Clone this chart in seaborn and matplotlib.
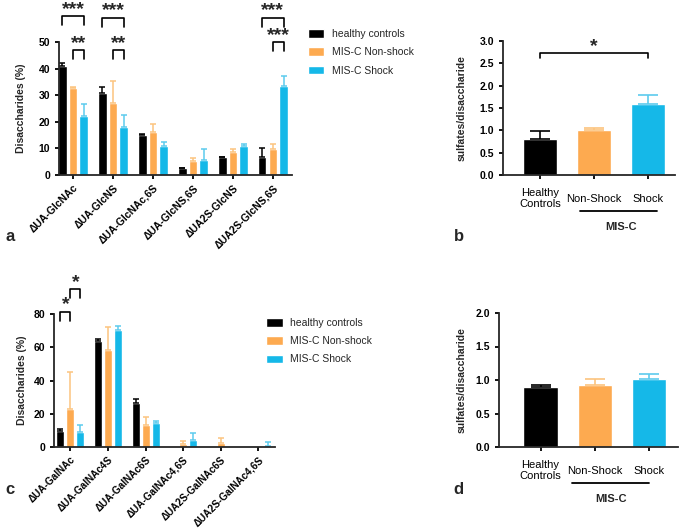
import matplotlib
matplotlib.use("Agg")
import matplotlib.pyplot as plt
import matplotlib.transforms as mtransforms
import pandas as pd
import seaborn as sns


GROUPS = ["healthy controls", "MIS-C Non-shock", "MIS-C Shock"]
COLORS = ["#000000", "#FDAA50", "#15B8E8"]
ERR_COLORS = ["#000000", "#FCC47E", "#5CCBEE"]

# a: heparan sulfate disaccharides (%)
hs_labels = ["ΔUA-GlcNAc", "ΔUA-GlcNS", "ΔUA-GlcNAc,6S", "ΔUA-GlcNS,6S",
             "ΔUA2S-GlcNS", "ΔUA2S-GlcNS,6S"]
hs_healthy = [41.1, 30.8, 15.2, 2.6, 6.7, 6.8]
hs_healthy_err = [1.0, 2.3, 0.3, 0.2, 0.2, 3.3]
hs_nonshock = [32.7, 27.0, 16.3, 5.3, 8.6, 9.8]
hs_nonshock_err = [0.5, 8.2, 2.8, 0.9, 1.2, 1.8]
hs_shock = [22.3, 18.1, 11.0, 5.5, 10.8, 33.5]
hs_shock_err = [4.2, 4.3, 1.4, 4.3, 0.7, 3.7]
# (category, group i, group j, bracket height, stars)
hs_sig = [(0, 0, 2, 59.6, "***"), (0, 1, 2, 47.0, "**"),
          (1, 0, 2, 59.2, "***"), (1, 1, 2, 47.0, "**"),
          (5, 0, 2, 59.2, "***"), (5, 1, 2, 50.0, "***")]

# c: chondroitin sulfate disaccharides (%)
cs_labels = ["ΔUA-GalNAc", "ΔUA-GalNAc4S", "ΔUA-GalNAc6S", "ΔUA-GalNAc4,6S",
             "ΔUA2S-GalNAc6S", "ΔUA2S-GalNAc4,6S"]
cs_healthy = [9.5, 63.9, 26.4, 0.0, 0.0, 0.0]
cs_healthy_err = [1.3, 1.1, 2.4, 0.0, 0.0, 0.0]
cs_nonshock = [23.0, 58.5, 13.5, 1.6, 2.6, 0.0]
cs_nonshock_err = [22.3, 13.8, 4.6, 1.9, 2.6, 0.0]
cs_shock = [8.8, 70.6, 14.3, 4.2, 0.0, 0.8]
cs_shock_err = [4.5, 2.4, 1.3, 4.3, 0.0, 2.0]
cs_sig = [(0, 0, 1, 81.5, "*"), (0, 1, 2, 95.0, "*")]

# b, d: sulfates per disaccharide
ratio_labels = ["Healthy\nControls", "Non-Shock", "Shock"]
hs_ratio = [0.80, 1.01, 1.60]
hs_ratio_err = [0.18, 0.05, 0.19]
cs_ratio = [0.90, 0.92, 1.02]
cs_ratio_err = [0.02, 0.09, 0.07]


sns.set_style("ticks")
plt.rcParams["font.family"] = ["Liberation Sans", "DejaVu Sans"]
plt.rcParams["axes.linewidth"] = 1.3

fig = plt.figure(figsize=(6.85, 5.28), dpi=100)


def style_axis(ax, bold_x=True):
    sns.despine(ax=ax)
    ax.tick_params(width=1.3, length=3, labelsize=7.5, colors="black")
    for t in ax.get_yticklabels():
        t.set_fontweight("bold")
    if bold_x:
        for t in ax.get_xticklabels():
            t.set_fontweight("bold")


def add_stars(ax, x1, x2, y, leg, stars):
    ax.plot([x1, x1, x2, x2], [y - leg, y, y, y - leg], color="black",
            lw=1.2, clip_on=False)
    ax.annotate(stars, ((x1 + x2) / 2, y), xytext=(0, 1.5),
                textcoords="offset points", ha="center", va="baseline",
                fontsize=14, fontweight="bold", annotation_clip=False)


def add_errorbars(ax, errs):
    for container, err, col in zip(ax.containers, errs, ERR_COLORS):
        for bar, e in zip(container, err):
            if e <= 0:
                continue
            x = bar.get_x() + bar.get_width() / 2
            ax.errorbar(x, bar.get_height(), yerr=[[0], [e]], color=col,
                        capsize=2.2, elinewidth=1.1, capthick=1.1, clip_on=False)


def grouped_panel(rect, labels, vals, errs, ylim, yticks, xlim, sig, leg_xy):
    ax = fig.add_axes(rect)
    df = pd.DataFrame({
        "cat": labels * 3,
        "group": [g for g in GROUPS for _ in labels],
        "value": [v for series in vals for v in series],
    })
    sns.barplot(data=df, x="cat", y="value", hue="group", order=labels,
                hue_order=GROUPS, palette=COLORS, saturation=1, errorbar=None,
                width=0.8, gap=0.2, ax=ax)
    add_errorbars(ax, errs)
    ax.set_ylim(*ylim)
    ax.set_yticks(yticks)
    ax.set_xlim(*xlim)
    ax.set_xlabel("")
    ax.set_ylabel("Disaccharides (%)", fontsize=7.5, fontweight="bold")
    ax.set_xticks(range(len(labels)))
    ax.set_xticklabels(labels, rotation=45, ha="right", rotation_mode="anchor")
    style_axis(ax)
    ax.tick_params(axis="x", pad=2.5)

    leg_h = (ylim[1] - ylim[0]) * 0.068
    for cat, i, j, y, stars in sig:
        b1 = ax.containers[i][cat]
        b2 = ax.containers[j][cat]
        x1 = b1.get_x() + b1.get_width() / 2
        x2 = b2.get_x() + b2.get_width() / 2
        add_stars(ax, x1, x2, y, leg_h, stars)

    sns.move_legend(ax, "upper left", bbox_to_anchor=leg_xy,
                    bbox_transform=fig.transFigure, frameon=False, title=None,
                    fontsize=7.5, handlelength=1.6, handleheight=0.9,
                    handletextpad=0.7, labelspacing=0.8, borderaxespad=0)
    return ax


def ratio_panel(rect, vals, errs, ylim, yticks, xlim, line_x, label_x):
    ax = fig.add_axes(rect)
    sns.barplot(x=ratio_labels, y=vals, hue=ratio_labels, palette=COLORS,
                saturation=1, errorbar=None, width=0.63, legend=False, ax=ax)
    for k, (bars, e) in enumerate(zip(ax.containers, errs)):
        bar = bars[0]
        x = bar.get_x() + bar.get_width() / 2
        ax.errorbar(x, bar.get_height(), yerr=[[0], [e]], color=ERR_COLORS[k],
                    capsize=7, elinewidth=1.2, capthick=1.2)
    ax.set_ylim(*ylim)
    ax.set_yticks(yticks)
    ax.set_xlim(*xlim)
    ax.set_ylabel("sulfates/disaccharide", fontsize=7.5, fontweight="bold")
    style_axis(ax, bold_x=False)
    ax.tick_params(axis="x", labelsize=8, pad=14)
    for t in ax.get_xticklabels():
        t.set_va("center")
        t.set_fontweight("normal")
    trans = mtransforms.blended_transform_factory(ax.transData, ax.transAxes)
    ax.plot(line_x, [-0.27, -0.27], color="black", lw=1.3, transform=trans,
            clip_on=False)
    ax.text(label_x, -0.385, "MIS-C", transform=trans, ha="center", va="center",
            fontsize=8, fontweight="bold")
    return ax


ax_a = grouped_panel([0.0861, 0.6686, 0.340, 0.2519], hs_labels,
                     [hs_healthy, hs_nonshock, hs_shock],
                     [hs_healthy_err, hs_nonshock_err, hs_shock_err],
                     (0, 50), range(0, 51, 10), (-0.35, 5.475), hs_sig,
                     (0.443, 0.953))
ax_a.yaxis.set_label_coords(-0.142, 0.5)

ax_c = grouped_panel([0.0788, 0.1534, 0.3226, 0.2519], cs_labels,
                     [cs_healthy, cs_nonshock, cs_shock],
                     [cs_healthy_err, cs_nonshock_err, cs_shock_err],
                     (0, 80), range(0, 81, 20), (-0.44, 5.45), cs_sig,
                     (0.3825, 0.406))
ax_c.yaxis.set_label_coords(-0.122, 0.5)
for t in ax_c.get_xticklabels():
    t.set_fontsize(7.2)

ax_b = ratio_panel([0.7343, 0.6686, 0.2511, 0.2538], hs_ratio, hs_ratio_err,
                   (0, 3.0), [0, 0.5, 1.0, 1.5, 2.0, 2.5, 3.0], (-0.685, 2.5),
                   [0.74, 2.17], 1.5)
ax_b.yaxis.set_label_coords(-0.209, 0.5)
# healthy controls vs shock
add_stars(ax_b, 0, 2, 2.72, 0.1, "*")

ax_d = ratio_panel([0.7285, 0.1534, 0.2613, 0.2538], cs_ratio, cs_ratio_err,
                   (0, 2.0), [0, 0.5, 1.0, 1.5, 2.0], (-0.764, 2.53),
                   [0.58, 2.0], 1.29)
ax_d.yaxis.set_label_coords(-0.179, 0.5)

for letter, x, y in [("a", 0.008, 0.553), ("b", 0.662, 0.553),
                     ("c", 0.008, 0.072), ("d", 0.662, 0.072)]:
    fig.text(x, y, letter, fontsize=12, fontweight="bold", va="center")

fig.savefig("out.png", dpi=100)
